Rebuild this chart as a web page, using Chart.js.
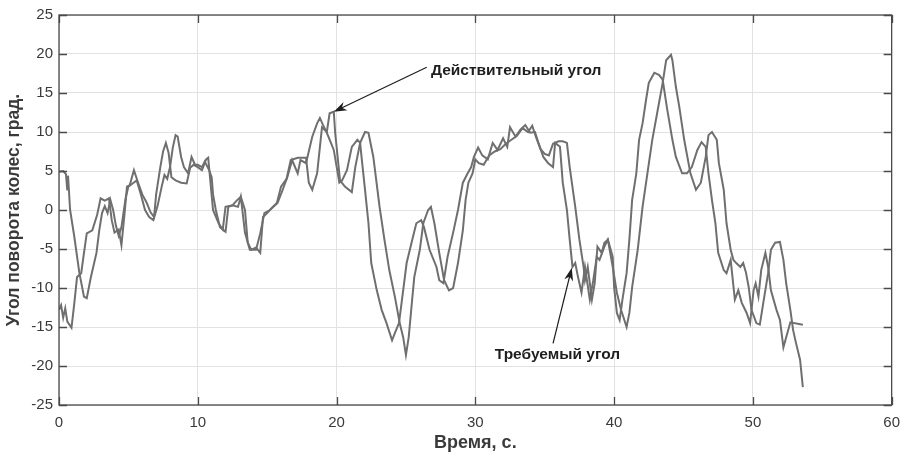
<!DOCTYPE html>
<html>

<head>
  <meta charset="UTF-8">
  <title>Угол поворота колес</title>
  <script src="https://cdn.jsdelivr.net/npm/chart.js"></script>
  <style>
    body {
      margin: 0;
      padding: 0;
      background: #fff;
    }

    #chart-container {
      width: 909px;
      height: 455px;
    }
  </style>
</head>

<body>
  <div id="chart-container">
    <canvas id="angleChart" width="909" height="455"></canvas>
  </div>

  <script>
    // Требуемый угол (ведущий сигнал)
    var timeReq = [0, 0.15, 0.3, 0.45, 0.6, 0.9, 1.1, 1.3, 1.6, 1.8, 2.0, 2.4, 2.75, 3.0, 3.3, 3.6, 3.8, 4.0, 4.3, 4.5,
      4.7, 4.9, 5.1, 5.4, 5.7, 6.0, 6.3, 6.6, 6.85, 7.0, 7.3, 7.5, 7.7, 7.9, 8.1, 8.4, 8.8, 9.2, 9.45, 9.7,
      10.0, 10.3, 10.6, 10.75, 11.1, 11.5, 11.8, 12.0, 12.5, 12.9, 13.1, 13.4, 13.75, 14.2, 14.5, 14.8, 15.2, 15.75, 16.1, 16.45,
      16.8, 17.2, 17.4, 17.8, 18.25, 18.6, 18.8, 19.1, 19.3, 19.8, 20.2, 20.4, 20.75, 21.1, 21.5, 21.7, 21.8, 22.05, 22.3, 22.5,
      22.9, 23.25, 23.6, 24.0, 24.2, 24.5, 24.8, 25.05, 25.5, 25.75, 26.1, 26.3, 26.7, 27.2, 27.4, 27.7, 28.0, 28.4, 28.75, 29.1,
      29.45, 29.7, 29.9, 30.2, 30.5, 30.9, 31.25, 31.6, 32.0, 32.3, 32.5, 32.9, 33.25, 33.6, 33.95, 34.3, 34.55, 34.9, 35.25, 35.6,
      35.75, 36.1, 36.3, 36.6, 36.8, 37.0, 37.2, 37.4, 37.65, 37.9, 38.25, 38.5, 38.75, 38.95, 39.3, 39.55, 39.9, 40.0, 40.2, 40.4,
      40.6, 40.9, 41.1, 41.3, 41.6, 41.8, 42.05, 42.3, 42.5, 42.9, 43.25, 43.5, 43.8, 44.2, 44.45, 44.9, 45.25, 45.6, 46.0, 46.3,
      46.6, 46.8, 47.05, 47.3, 47.5, 47.9, 48.1, 48.4, 48.7, 48.95, 49.2, 49.55, 49.8, 50.05, 50.2, 50.4, 50.6, 50.9, 51.1, 51.3,
      51.7, 51.95, 52.2, 52.4, 52.7, 53.6];
    var angleReq = [-12.8, -12.2, -13.8, -12.6, -14.3, -15.1, -12, -8.6, -8.1, -5.5, -3, -2.6, -0.6, 1.5, 1.2, 1.5, -1.3, -2.9, -2.5, -4.5,
      -0.9, 3, 3.2, 5.1, 3.5, 2, 1, -0.3, -0.9, 2, 5.5, 7.5, 8.6, 7.3, 4.2, 3.8, 3.5, 3.4, 5.4, 5.8,
      5.5, 5.1, 6.5, 6.7, 0, -1.7, -2.5, 0.4, 0.6, 0.4, 1.7, -2.9, -5.1, -5.1, -3, -0.4, 0, 0.9, 2.5, 4.2,
      6.4, 4.7, 6.4, 6, 9.4, 11.1, 11.8, 10.6, 9.9, 7.7, 3.5, 3.8, 5.1, 8.1, 9, 8.6, 6.8, 2.6, -1.7, -6.8,
      -10.3, -12.8, -14.5, -16.7, -15.8, -14.5, -10.3, -6.8, -3.5, -1.7, -1.3, -2.2, -5.1, -7.3, -9, -9.4, -6, -2.9, 0, 3.5,
      4.7, 5.5, 6.8, 8, 7, 6.5, 8.6, 7.7, 9.2, 8.1, 10.6, 9.4, 10.3, 10.9, 9.9, 10, 8.6, 6.8, 6, 5.5,
      8.6, 8.1, 3.5, 0, -3.8, -7.3, -6.8, -8.6, -10.6, -7.3, -11.5, -9, -6, -6.4, -4.7, -3.8, -6, -9.9, -13.2, -14.1,
      -11.5, -8.1, -3.8, 1.3, 4.7, 9, 11.1, 14.1, 16.3, 17.6, 17.3, 16.7, 13.2, 9, 6.8, 4.7, 4.7, 5.5, 7.7, 8.7,
      8.1, 4.7, 1.3, -1.7, -5.5, -7.7, -8.1, -6.4, -11.5, -10.3, -11.9, -13.2, -14.5, -10.3, -9.4, -11.1, -7.7, -5.5, -7.3, -10.3,
      -12.8, -14.1, -17.6, -16.3, -14.4, -14.7];

    // Действительный угол (запаздывающий)
    var timeAct = [0, 0.3, 0.5, 0.6, 0.65, 0.8, 1.1, 1.47, 1.8, 2.0, 2.3, 2.7, 2.9, 3.1, 3.3, 3.5, 3.7, 3.9, 4.1, 4.3,
      4.5, 4.8, 5.0, 5.3, 5.6, 5.9, 6.2, 6.5, 6.8, 7.1, 7.4, 7.6, 7.8, 8.0, 8.2, 8.4, 8.55, 8.8, 9.0, 9.3,
      9.55, 9.8, 10.0, 10.3, 10.5, 10.8, 11.0, 11.1, 11.3, 11.6, 12.0, 12.2, 12.5, 12.8, 13.1, 13.4, 13.6, 13.85, 14.2, 14.5,
      14.7, 15.0, 15.4, 15.7, 16.0, 16.4, 16.7, 17.2, 17.8, 18.0, 18.25, 18.6, 18.95, 19.3, 19.5, 19.8, 19.9, 20.25, 20.6, 21.1,
      21.35, 21.7, 22.05, 22.3, 22.65, 23.1, 23.45, 23.8, 24.2, 24.55, 24.8, 25.0, 25.2, 25.4, 25.6, 26.0, 26.25, 26.6, 26.8, 27.05,
      27.4, 27.75, 28.1, 28.4, 28.75, 29.1, 29.3, 29.5, 29.8, 30.0, 30.25, 30.6, 31.0, 31.4, 31.8, 32.2, 32.6, 33.0, 33.4, 33.8,
      34.1, 34.4, 34.7, 35.0, 35.3, 35.6, 36.0, 36.3, 36.6, 36.8, 37.2, 37.5, 37.8, 37.9, 38.1, 38.4, 38.6, 38.8, 39.1, 39.3,
      39.55, 39.9, 40.2, 40.5, 40.9, 41.1, 41.3, 41.7, 42.05, 42.4, 42.75, 43.1, 43.5, 43.75, 44.1, 44.2, 44.45, 44.7, 45.05, 45.5,
      45.9, 46.25, 46.6, 46.8, 47.05, 47.4, 47.55, 47.9, 48.1, 48.4, 48.6, 48.8, 49.1, 49.3, 49.5, 49.7, 49.9, 50.25, 50.5, 50.75,
      51.1, 51.3, 51.6, 51.95, 52.2, 52.4, 52.7, 52.9, 53.1, 53.4, 53.6];
    var angleAct = [4.9, 5, 4.6, 2.5, 4.4, 0, -3.4, -8.1, -11.1, -11.3, -8.6, -5.5, -2.6, -0.4, 0.5, -0.4, 1.3, 0, -2, -3.3,
      -2.2, 1.5, 3, 3.4, 3.8, 2, 0, -0.9, -1.3, 0.5, 3, 4.5, 4, 5.5, 8, 9.6, 9.4, 6.8, 5.5, 4.7,
      6.8, 5.8, 5.8, 5.5, 6.2, 5.2, 4.2, 2, 0, -2.2, -2.8, 0.4, 0.6, 1.2, 1.7, 0, -4.2, -5.1, -4.8, -5.5,
      -0.9, -0.4, 0.4, 0.9, 3, 4, 6.4, 6.7, 6.7, 3.5, 2.6, 4.7, 10.6, 10, 12.4, 12.6, 9.9, 3.8, 3, 2.3,
      5.5, 8.6, 10, 9.9, 6.8, 0.4, -3.8, -7.7, -11.1, -14.5, -16.3, -18.6, -16.3, -12.4, -8.6, -5.1, -1.7, 0, 0.4, -1.7,
      -5.5, -9, -10.3, -10, -6.8, -2.6, 1.3, 3.5, 4.7, 6.5, 6, 5.8, 7, 7.5, 7.8, 8.5, 9, 9.5, 10.5, 10,
      10.8, 9.2, 7.8, 7.2, 7, 8.5, 8.8, 8.8, 8.6, 5.5, 0.4, -3.8, -7.3, -9, -7.3, -11.5, -9.4, -4.7, -5.5, -4.2,
      -3.8, -7.3, -10.6, -12.8, -15, -13.2, -9.9, -5.1, 0.4, 4.7, 9, 12.4, 16.3, 19.2, 19.9, 19.2, 15.8, 13.2, 9, 4.7,
      2.6, 3.5, 6.8, 9.6, 10, 9, 6, 2.6, -1.7, -5.1, -6.4, -6.8, -7.3, -6.8, -8, -9.9, -12.8, -14.5, -14.7, -11.9,
      -8.1, -5.1, -4.2, -4.1, -6.4, -9.4, -12.8, -15.4, -17, -19.2, -22.7];

    var xTicks = [0, 10, 20, 30, 40, 50, 60];
    var yTicks = [-25, -20, -15, -10, -5, 0, 5, 10, 15, 20, 25];

    var lineColor = '#6f6f6f';
    var textColor = '#3a3a3a';
    var fontFamily = '"Liberation Sans", Arial, sans-serif';

    function toPoints(xs, ys) {
      return xs.map(function (x, i) { return { x: x, y: ys[i] }; });
    }

    // рамка и внутренние засечки, как в MATLAB
    var frameTicks = {
      id: 'frameTicks',
      afterDraw: function (chart) {
        var ctx = chart.ctx;
        var a = chart.chartArea;
        var xs = chart.scales.x, ys = chart.scales.y;
        ctx.save();
        ctx.strokeStyle = '#4a4a4a';
        ctx.lineWidth = 1.3;
        ctx.strokeRect(a.left, a.top, a.right - a.left, a.bottom - a.top);
        ctx.beginPath();
        xTicks.forEach(function (v) {
          var px = Math.round(xs.getPixelForValue(v)) + 0.5;
          ctx.moveTo(px, a.bottom); ctx.lineTo(px, a.bottom - 8);
          ctx.moveTo(px, a.top); ctx.lineTo(px, a.top + 8);
        });
        yTicks.forEach(function (v) {
          var py = Math.round(ys.getPixelForValue(v)) + 0.5;
          ctx.moveTo(a.left, py); ctx.lineTo(a.left + 8, py);
          ctx.moveTo(a.right, py); ctx.lineTo(a.right - 8, py);
        });
        ctx.stroke();
        ctx.restore();
      }
    };

    // подписи со стрелками
    var arrowNotes = {
      id: 'arrowNotes',
      afterDraw: function (chart) {
        var ctx = chart.ctx;
        var xs = chart.scales.x, ys = chart.scales.y;
        var notes = [
          { text: 'Действительный угол', tx: 26.8, ty: 17.9, fx: 26.5, fy: 18.3, hx: 19.8, hy: 12.6 },
          { text: 'Требуемый угол', tx: 31.4, ty: -18.6, fx: 35.6, fy: -17.1, hx: 36.95, hy: -7.4 }
        ];
        ctx.save();
        notes.forEach(function (n) {
          var x0 = xs.getPixelForValue(n.fx), y0 = ys.getPixelForValue(n.fy);
          var x1 = xs.getPixelForValue(n.hx), y1 = ys.getPixelForValue(n.hy);
          var ang = Math.atan2(y1 - y0, x1 - x0);
          ctx.strokeStyle = '#1e1e1e';
          ctx.fillStyle = '#1e1e1e';
          ctx.lineWidth = 1.2;
          ctx.beginPath();
          ctx.moveTo(x0, y0);
          ctx.lineTo(x1 - 8 * Math.cos(ang), y1 - 8 * Math.sin(ang));
          ctx.stroke();
          ctx.beginPath();
          ctx.moveTo(x1, y1);
          ctx.lineTo(x1 - 13 * Math.cos(ang) + 4.5 * Math.sin(ang), y1 - 13 * Math.sin(ang) - 4.5 * Math.cos(ang));
          ctx.lineTo(x1 - 9 * Math.cos(ang), y1 - 9 * Math.sin(ang));
          ctx.lineTo(x1 - 13 * Math.cos(ang) - 4.5 * Math.sin(ang), y1 - 13 * Math.sin(ang) + 4.5 * Math.cos(ang));
          ctx.closePath();
          ctx.fill();
          ctx.font = 'bold 15.5px ' + fontFamily;
          ctx.textAlign = 'left';
          ctx.textBaseline = 'middle';
          ctx.fillText(n.text, xs.getPixelForValue(n.tx), ys.getPixelForValue(n.ty));
        });
        ctx.restore();
      }
    };

    var ctx = document.getElementById('angleChart').getContext('2d');
    var angleChart = new Chart(ctx, {
      type: 'line',
      data: {
        datasets: [
          {
            label: 'Требуемый угол',
            data: toPoints(timeReq, angleReq),
            borderColor: lineColor,
            borderWidth: 2,
            pointRadius: 0,
            tension: 0
          },
          {
            label: 'Действительный угол',
            data: toPoints(timeAct, angleAct),
            borderColor: lineColor,
            borderWidth: 2,
            pointRadius: 0,
            tension: 0
          }
        ]
      },
      options: {
        responsive: false,
        animation: false,
        layout: {
          padding: { top: 15, right: 9, left: 0, bottom: 0 }
        },
        plugins: {
          legend: { display: false },
          tooltip: { enabled: false }
        },
        scales: {
          x: {
            type: 'linear',
            min: 0,
            max: 60,
            afterBuildTicks: function (scale) {
              scale.ticks = xTicks.map(function (v) { return { value: v }; });
            },
            afterFit: function (scale) { scale.height = 50; },
            grid: { color: '#e2e2e2', drawTicks: false },
            border: { display: false },
            ticks: {
              color: textColor,
              padding: 9,
              font: { family: fontFamily, size: 15 }
            },
            title: {
              display: true,
              text: 'Время, с.',
              color: textColor,
              padding: { top: 0, bottom: 1 },
              font: { family: fontFamily, size: 18, weight: 'bold' }
            }
          },
          y: {
            type: 'linear',
            min: -25,
            max: 25,
            afterBuildTicks: function (scale) {
              scale.ticks = yTicks.map(function (v) { return { value: v }; });
            },
            afterFit: function (scale) { scale.width = 59; },
            grid: { color: '#e2e2e2', drawTicks: false },
            border: { display: false },
            ticks: {
              color: textColor,
              padding: 6,
              font: { family: fontFamily, size: 15 }
            },
            title: {
              display: true,
              text: 'Угол поворота колес, град.',
              color: textColor,
              padding: { top: 4, bottom: 0 },
              font: { family: fontFamily, size: 17.5, weight: 'bold' }
            }
          }
        }
      },
      plugins: [frameTicks, arrowNotes]
    });
  </script>
</body>

</html>
